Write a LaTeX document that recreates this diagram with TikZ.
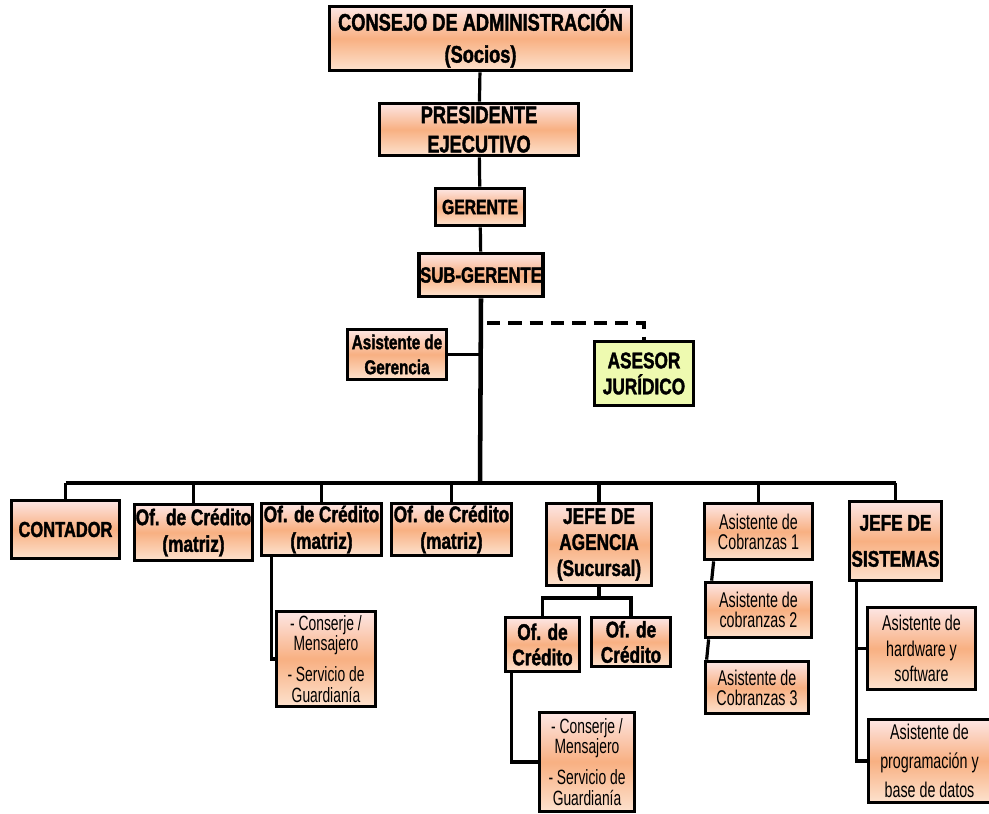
\documentclass[tikz,border=0pt]{standalone}
\usepackage{fontspec}
\usepackage{xcolor}
\newfontfamily\narbf{Liberation Sans}[FakeStretch=0.76,BoldFeatures={FakeBold=1.6}]
\newfontfamily\narrm{Liberation Sans}[FakeStretch=0.67]
\usetikzlibrary{calc}

\definecolor{boxtop}{RGB}{253,230,228}
\definecolor{boxmid}{RGB}{248,176,130}
\definecolor{boxbot}{RGB}{253,226,206}
\definecolor{asesorfill}{RGB}{238,250,176}

\tikzset{
  orgbox/.style={draw=black, line width=2.8pt, top color=boxtop, bottom color=boxbot,
    middle color=boxmid, inner sep=1pt, align=center, text=black},
  greenbox/.style={draw=black, line width=2.8pt, fill=asesorfill, inner sep=1pt,
    align=center, text=black},
  sz/.style 2 args={minimum width=#1*0.75pt, minimum height=#2*0.75pt},
  link/.style={line width=2.4pt},
  mainlink/.style={line width=3.4pt},
  dashlink/.style={line width=2.8pt, dash pattern=on 10pt off 6pt},
}

\begin{document}
\begin{tikzpicture}[x=0.75pt, y=-0.75pt]
    \useasboundingbox (0,0) rectangle (989,814);

    \node[orgbox, sz={302}{64}, font=\narbf\bfseries\fontsize{18}{24}\selectfont] (consejo) at (480.5,38.5) {CONSEJO DE ADMINISTRACIÓN\\(Socios)};
    \node[orgbox, sz={199}{52}, font=\narbf\bfseries\fontsize{18}{22}\selectfont] (presidente) at (479,129.5) {PRESIDENTE\\EJECUTIVO};
    \node[orgbox, sz={89}{37}, font=\narbf\bfseries\fontsize{15.5}{18}\selectfont] (gerente) at (480,207) {GERENTE};
    \node[orgbox, sz={119}{43}, font=\narbf\bfseries\fontsize{16.5}{19}\selectfont] (subgerente) at (481,275) {SUB-GERENTE};
    \node[orgbox, sz={99}{50}, font=\narbf\bfseries\fontsize{15}{18.75}\selectfont] (asistgerencia) at (397,354.5) {Asistente de\\Gerencia};
    \node[greenbox, sz={99}{64}, font=\narbf\bfseries\fontsize{17}{19.5}\selectfont] (asesor) at (644,373.5) {ASESOR\\JURÍDICO};

    \node[orgbox, sz={108}{58}, font=\narbf\bfseries\fontsize{16.25}{19}\selectfont] (contador) at (65.5,529.5) {CONTADOR};
    \node[orgbox, sz={112}{56}, font=\narbf\bfseries\fontsize{17}{20}\selectfont] (ofc1) at (193.5,532.5) {Of. de Crédito\\(matriz)};
    \node[orgbox, sz={120}{52}, font=\narbf\bfseries\fontsize{17}{20}\selectfont] (ofc2) at (321.5,529.5) {Of. de Crédito\\(matriz)};
    \node[orgbox, sz={120}{52}, font=\narbf\bfseries\fontsize{17}{20}\selectfont] (ofc3) at (451.5,529.5) {Of. de Crédito\\(matriz)};
    \node[orgbox, sz={105}{82}, font=\narbf\bfseries\fontsize{17}{19.5}\selectfont] (agencia) at (599,544.5) {JEFE DE\\AGENCIA\\(Sucursal)};
    \node[orgbox, sz={108}{56}, font=\narrm\fontsize{16}{15}\selectfont] (cobr1) at (758.5,531.5) {Asistente de\\Cobranzas 1};
    \node[orgbox, sz={92}{79}, font=\narbf\bfseries\fontsize{17}{27}\selectfont] (sistemas) at (895.5,541) {JEFE DE\\SISTEMAS};

    \node[orgbox, sz={99}{95}, font=\narrm\fontsize{15.5}{15.4}\selectfont] (conserje1) at (326,659) {- Conserje /\\Mensajero\\[8pt]- Servicio de\\Guardianía};
    \node[orgbox, sz={74}{54}, font=\narbf\bfseries\fontsize{17}{19}\selectfont] (ofca) at (542.5,644.5) {Of. de\\Crédito};
    \node[orgbox, sz={79}{49}, font=\narbf\bfseries\fontsize{17}{19}\selectfont] (ofcb) at (631,642) {Of. de\\Crédito};
    \node[orgbox, sz={95}{99}, font=\narrm\fontsize{15.5}{15.4}\selectfont] (conserje2) at (587,762) {- Conserje /\\Mensajero\\[8pt]- Servicio de\\Guardianía};
    \node[orgbox, sz={106}{55}, font=\narrm\fontsize{16}{15}\selectfont] (cobr2) at (758.5,610) {Asistente de\\cobranzas 2};
    \node[orgbox, sz={103}{52}, font=\narrm\fontsize{16}{15}\selectfont] (cobr3) at (757,687.5) {Asistente de\\Cobranzas 3};
    \node[orgbox, sz={108}{82}, font=\narrm\fontsize{16}{19}\selectfont] (hardware) at (921.5,648.5) {Asistente de\\hardware y\\software};
    \node[orgbox, sz={122}{83}, font=\narrm\fontsize{16}{22}\selectfont] (programacion) at (929.5,761) {Asistente de\\programación y\\base de datos};

    \coordinate (bar) at (480,483);
    \coordinate (dashstart) at (487,323);
    \coordinate (agbar) at (599,598);

    \draw[link] (consejo) -- (presidente);
    \draw[link] (presidente) -- (gerente);
    \draw[link] (gerente) -- (subgerente);
    \draw[mainlink] (subgerente.south) -- (bar);
    \draw[link] (asistgerencia.east) -- (asistgerencia.east -| bar);
    \draw[dashlink] (dashstart) -| (asesor.north);

    \draw[mainlink] (contador.north |- bar) -- (sistemas.north |- bar);
    \draw[link] (contador.north |- bar) -- (contador.north);
    \draw[link] (ofc1.north |- bar) -- (ofc1.north);
    \draw[link] (ofc2.north |- bar) -- (ofc2.north);
    \draw[link] (ofc3.north |- bar) -- (ofc3.north);
    \draw[link] (agencia.north |- bar) -- (agencia.north);
    \draw[link] (cobr1.north |- bar) -- (cobr1.north);
    \draw[link] (sistemas.north |- bar) -- (sistemas.north);

    \draw[link] ($(ofc2.south west)+(12,0)$) |- (conserje1.west);

    \draw[link] (agencia.south) -- (agbar);
    \draw[link] (ofca.north) |- (agbar) -| (ofcb.north);
    \draw[link] ($(ofca.south west)+(8,0)$) |- (conserje2.west);

    \draw[link] ($(cobr1.south west)+(11,0)$) -- ($(cobr2.north west)+(8,0)$);
    \draw[link] ($(cobr2.south west)+(5,0)$) -- ($(cobr3.north west)+(3,0)$);

    \draw[link] ($(sistemas.south west)+(9,0)$) |- (hardware.west);
    \draw[link] ($(sistemas.south west)+(9,0)$) |- (programacion.west);

\end{tikzpicture}
\end{document}
